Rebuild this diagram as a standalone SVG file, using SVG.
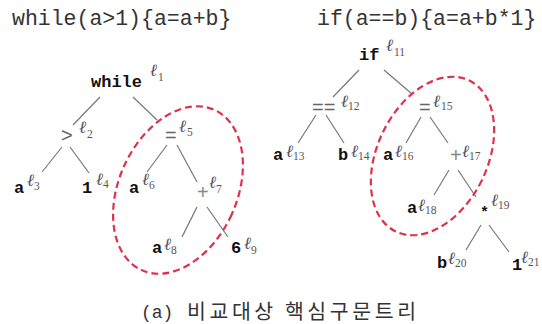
<svg xmlns="http://www.w3.org/2000/svg" width="542" height="324" viewBox="0 0 542 324">
<style>
.title{font-family:"Liberation Mono",monospace;font-size:21.5px;fill:#333}
.kw{font-family:"Liberation Mono",monospace;font-size:17px;font-weight:bold;fill:#111}
.op{font-family:"Liberation Sans",sans-serif;font-size:20px;fill:#666}
.star{font-family:"Liberation Mono",monospace;font-size:15px;font-weight:bold;fill:#111}
.ell{font-family:"Liberation Serif",serif;font-style:italic;font-size:17px;fill:#4a4e62}
.sub{font-family:"Liberation Serif",serif;font-size:11.5px;fill:#555}
.edge{stroke:#777;stroke-width:1.2;fill:none}
.ring{stroke:#e0304a;stroke-width:2.2;fill:none;stroke-dasharray:7 4}
.cap{font-family:"Noto Sans CJK KR",sans-serif;font-size:20.5px;fill:#333}
.capm{font-family:"Liberation Mono",monospace;font-size:18px;fill:#333}
</style>
<rect width="542" height="324" fill="#fff"/>
<text class="title" x="12" y="25">while(a&gt;1){a=a+b}</text>
<text class="title" x="317" y="25">if(a==b){a=a+b*1}</text>
<g id="connectors">
<line class="edge" x1="100" y1="97" x2="73" y2="125"/>
<line class="edge" x1="133" y1="97" x2="157" y2="120"/>
<line class="edge" x1="62" y1="147" x2="42" y2="172"/>
<line class="edge" x1="70" y1="147" x2="89" y2="173"/>
<line class="edge" x1="167" y1="145" x2="147" y2="172"/>
<line class="edge" x1="177" y1="145" x2="197" y2="182"/>
<line class="edge" x1="197" y1="207" x2="182" y2="237"/>
<line class="edge" x1="207" y1="207" x2="228" y2="237"/>
<line class="edge" x1="359" y1="70" x2="333" y2="97"/>
<line class="edge" x1="384" y1="70" x2="412" y2="94"/>
<line class="edge" x1="316" y1="115" x2="298" y2="143"/>
<line class="edge" x1="326" y1="115" x2="344" y2="143"/>
<line class="edge" x1="421" y1="117" x2="406" y2="143"/>
<line class="edge" x1="430" y1="117" x2="448" y2="143"/>
<line class="edge" x1="449" y1="170" x2="434" y2="195"/>
<line class="edge" x1="458" y1="170" x2="476" y2="197"/>
<line class="edge" x1="481" y1="225" x2="466" y2="250"/>
<line class="edge" x1="489" y1="225" x2="509" y2="252"/>
</g>
<ellipse class="ring" cx="178" cy="190" rx="59" ry="88" transform="rotate(24.5 178 190)"/>
<ellipse class="ring" cx="432.5" cy="156" rx="55" ry="84" transform="rotate(26 432.5 156)"/>
<g id="n1"><text class="kw" x="91" y="87">while</text><text class="ell" x="150" y="76">ℓ</text><text class="sub" x="158" y="81">1</text></g>
<g id="n2"><text class="op" x="61" y="142">&gt;</text><text class="ell" x="79" y="133">ℓ</text><text class="sub" x="87" y="138">2</text></g>
<g id="n3"><text class="kw" x="14" y="193">a</text><text class="ell" x="27" y="186">ℓ</text><text class="sub" x="34" y="190">3</text></g>
<g id="n4"><text class="kw" x="82" y="193">1</text><text class="ell" x="96" y="185">ℓ</text><text class="sub" x="103" y="188">4</text></g>
<g id="n5"><text class="op" x="165" y="142">=</text><text class="ell" x="179" y="132">ℓ</text><text class="sub" x="187" y="136">5</text></g>
<g id="n6"><text class="kw" x="129" y="193">a</text><text class="ell" x="142" y="185">ℓ</text><text class="sub" x="149" y="189">6</text></g>
<g id="n7"><text class="op" x="197" y="199" style="fill:#888">+</text><text class="ell" x="209" y="188">ℓ</text><text class="sub" x="216" y="193">7</text></g>
<g id="n8"><text class="kw" x="152" y="253">a</text><text class="ell" x="164" y="250">ℓ</text><text class="sub" x="171" y="254">8</text></g>
<g id="n9"><text class="kw" x="231" y="253">6</text><text class="ell" x="244" y="249">ℓ</text><text class="sub" x="251" y="254">9</text></g>
<g id="n11"><text class="kw" x="359" y="60">if</text><text class="ell" x="386" y="51">ℓ</text><text class="sub" x="394" y="56">11</text></g>
<g id="n12"><text class="op" x="312" y="114">==</text><text class="ell" x="341" y="107">ℓ</text><text class="sub" x="348" y="110">12</text></g>
<g id="n15"><text class="op" x="419" y="114">=</text><text class="ell" x="433" y="107">ℓ</text><text class="sub" x="441" y="110">15</text></g>
<g id="n13"><text class="kw" x="273" y="160">a</text><text class="ell" x="286" y="157">ℓ</text><text class="sub" x="293" y="160">13</text></g>
<g id="n14"><text class="kw" x="338" y="160">b</text><text class="ell" x="351" y="157">ℓ</text><text class="sub" x="358" y="160">14</text></g>
<g id="n16"><text class="kw" x="383" y="160">a</text><text class="ell" x="395" y="157">ℓ</text><text class="sub" x="402" y="160">16</text></g>
<g id="n17"><text class="op" x="450" y="162" style="fill:#888">+</text><text class="ell" x="462" y="157">ℓ</text><text class="sub" x="469" y="160">17</text></g>
<g id="n18"><text class="kw" x="407" y="213">a</text><text class="ell" x="418" y="211">ℓ</text><text class="sub" x="425" y="214">18</text></g>
<g id="n19"><text class="star" x="480" y="217">*</text><text class="ell" x="491" y="206">ℓ</text><text class="sub" x="498" y="209">19</text></g>
<g id="n20"><text class="kw" x="437" y="268">b</text><text class="ell" x="448" y="264">ℓ</text><text class="sub" x="455" y="267">20</text></g>
<g id="n21"><text class="kw" x="512" y="270">1</text><text class="ell" x="521" y="263">ℓ</text><text class="sub" x="528" y="266">21</text></g>
<g id="caption"><text class="capm" x="141" y="318">(a)</text><text class="cap" x="187" y="319" textLength="229" lengthAdjust="spacing">비교대상 핵심구문트리</text></g>
</svg>
